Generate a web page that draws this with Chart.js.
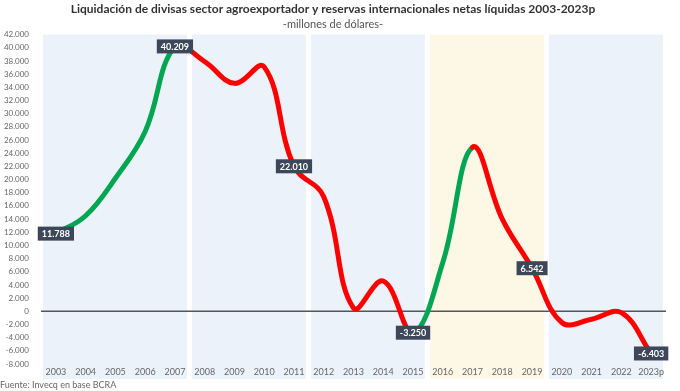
<!DOCTYPE html>
<html>
<head>
<meta charset="utf-8">
<script src="https://cdn.jsdelivr.net/npm/chart.js@4"></script>
<style>
  html, body { margin: 0; padding: 0; background: #fff; }
  #wrap { position: relative; width: 680px; height: 391px; }
</style>
</head>
<body>
<div id="wrap"><canvas id="grafico"></canvas></div>
<script>
const anios = ['2003','2004','2005','2006','2007','2008','2009','2010','2011','2012','2013',
               '2014','2015','2016','2017','2018','2019','2020','2021','2022','2023p'];
const reservas = [11788, 14500, 20200, 27300, 40209, 37900, 34600, 37100, 22010, 17400, 500,
                  4600, -3250, 7400, 24900, 14000, 6542, -1700, -1200, -200, -6403];
// años donde empieza un tramo verde (subida)
const tramosVerdes = ['2003','2004','2005','2006','2015','2016'];
// años con etiqueta
const etiquetados = ['2003','2007','2011','2015','2019','2023p'];
// bandas de fondo: [desde, hasta, color]
const bandas = [
  ['2003','2007','#ecf2fa'],
  ['2008','2011','#ecf2fa'],
  ['2012','2015','#ecf2fa'],
  ['2016','2019','#fdf7e6'],
  ['2020','2023p','#ecf2fa']
];

const fmt = v => {
  const s = Math.abs(v).toString().replace(/\B(?=(\d{3})+(?!\d))/g, '.');
  return (v < 0 ? '-' : '') + s;
};

const fondo = {
  id: 'fondo',
  beforeDraw(chart) {
    const {ctx, chartArea, scales: {x, y}} = chart;
    const paso = x.getPixelForValue(1) - x.getPixelForValue(0);
    ctx.save();
    bandas.forEach(b => {
      const i0 = anios.indexOf(b[0]), i1 = anios.indexOf(b[1]);
      const l = x.getPixelForValue(i0) - paso / 2 + 2;
      const r = x.getPixelForValue(i1) + paso / 2 - 3;
      ctx.fillStyle = b[2];
      ctx.fillRect(l, chartArea.top, r - l, chartArea.bottom - chartArea.top + 15);
    });
    // linea del cero
    const y0 = y.getPixelForValue(0);
    ctx.strokeStyle = '#555';
    ctx.lineWidth = 1.5;
    ctx.beginPath();
    ctx.moveTo(chartArea.left, y0);
    ctx.lineTo(chartArea.right, y0);
    ctx.stroke();
    ctx.restore();
  },
  afterDraw(chart) {
    const {ctx} = chart;
    const meta = chart.getDatasetMeta(0);
    ctx.save();
    ctx.font = 'bold 9px Lato';
    ctx.textAlign = 'center';
    ctx.textBaseline = 'middle';
    etiquetados.forEach(a => {
      const i = anios.indexOf(a);
      const p = meta.data[i];
      const t = fmt(reservas[i]);
      const w = ctx.measureText(t).width + 8;
      ctx.fillStyle = '#3c4859';
      ctx.fillRect(p.x - w / 2, p.y - 7, w, 14);
      ctx.fillStyle = '#fff';
      ctx.fillText(t, p.x, p.y + 0.5);
    });
    ctx.font = '9px Lato';
    ctx.fillStyle = '#666';
    ctx.textAlign = 'left';
    ctx.fillText('Fuente: Invecq en base BCRA', 0, 385);
    ctx.restore();
  }
};

new Chart(document.getElementById('grafico'), {
  type: 'line',
  data: {
    labels: anios,
    datasets: [{
      data: reservas,
      borderWidth: 5,
      tension: 0.4,
      pointRadius: 0,
      borderCapStyle: 'round',
      borderColor: '#ff0000',
      segment: {
        borderColor: c => tramosVerdes.includes(anios[c.p0DataIndex]) ? '#00a651' : '#ff0000'
      }
    }]
  },
  options: {
    responsive: true,
    maintainAspectRatio: false,
    animation: false,
    layout: { padding: { left: 0, right: 14, top: 0, bottom: 13 } },
    plugins: {
      legend: { display: false },
      tooltip: { enabled: false },
      title: {
        display: true,
        text: 'Liquidación de divisas sector agroexportador y reservas internacionales netas líquidas 2003-2023p',
        color: '#333',
        font: { family: 'Lato', size: 12, weight: 'bold' },
        padding: { top: 2, bottom: 1 }
      },
      subtitle: {
        display: true,
        text: '-millones de dólares-',
        color: '#555',
        font: { family: 'Lato', size: 11 },
        padding: { bottom: 4 }
      }
    },
    scales: {
      x: {
        offset: true,
        grid: { display: false, drawTicks: false, tickLength: 0 },
        border: { display: false },
        afterFit: s => { s.height = 14; },
        ticks: { color: '#666', font: { family: 'Lato', size: 9 }, maxRotation: 0, autoSkip: false, padding: 3 }
      },
      y: {
        min: -8000,
        max: 42000,
        grid: { display: false },
        border: { display: false },
        afterFit: s => { s.width = 41; },
        ticks: {
          stepSize: 2000,
          color: '#666',
          font: { family: 'Lato', size: 8 },
          padding: 4,
          callback: v => fmt(v)
        }
      }
    }
  },
  plugins: [fondo]
});
</script>
</body>
</html>
